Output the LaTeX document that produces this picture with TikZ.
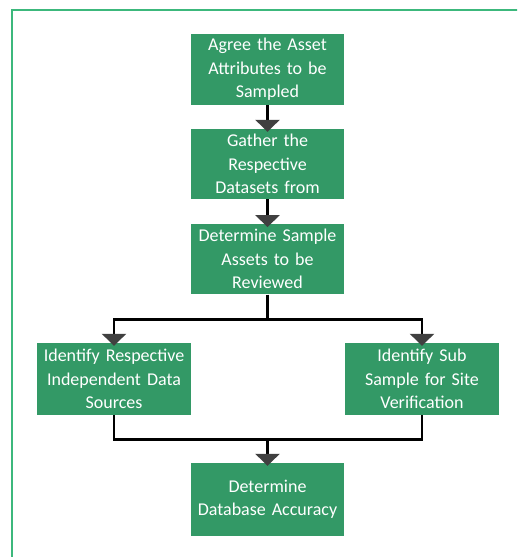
\documentclass[tikz,border=0pt]{standalone}
\usepackage{fontspec}
\setmainfont{Carlito}
\usetikzlibrary{arrows.meta}
\definecolor{boxgreen}{RGB}{51,153,102}
\definecolor{framegreen}{RGB}{60,184,124}
\definecolor{tipgray}{RGB}{64,64,64}
\tikzset{
  stepbox/.style={fill=boxgreen, text=white, inner sep=0pt, align=center,
    minimum width=153pt, text width=152pt, font=\fontsize{18}{23.5}\selectfont},
  conn/.style={draw=black, line width=2.6pt},
  arr/.style={conn, -{Triangle[width=24pt,length=12pt,color=tipgray]}, shorten >=-3pt}
}
\begin{document}
\begin{tikzpicture}[x=1pt,y=-1pt]
\useasboundingbox (0,0) rectangle (517,557);
\clip (0,0) rectangle (517,557);
\draw[framegreen, line width=2.4pt] (12,10) rectangle (560,600);

\node[stepbox, minimum height=71pt] (b1) at (267.5,69.5) {Agree the Asset\\Attributes to be\\Sampled};
\node[stepbox, minimum height=70pt] (b2) at (267.5,164) {Gather the\\Respective\\Datasets from};
\node[stepbox, minimum height=70pt] (b3) at (267.5,259.3) {Determine Sample\\Assets to be\\Reviewed};
\node[stepbox, minimum height=72pt, minimum width=154pt] (bl) at (114,379) {Identify Respective\\Independent Data\\Sources};
\node[stepbox, minimum height=72pt, minimum width=154pt] (br) at (422,379) {Identify Sub\\Sample for Site\\Verification};
\node[stepbox, minimum height=73pt] (b6) at (267.5,499.5) {Determine\\Database Accuracy};

\coordinate (split) at (267.5,319.5);
\coordinate (join) at (267.5,439.5);

\draw[arr] (b1.south) -- (b2.north);
\draw[arr] (b2.south) -- (b3.north);
\draw[conn] (b3.south) -- (split);
\draw[arr] (split) -| (bl.north);
\draw[arr] (split) -| (br.north);
\draw[conn] (bl.south) |- (join);
\draw[conn] (br.south) |- (join);
\draw[arr] (join) -- (b6.north);
\end{tikzpicture}
\end{document}
